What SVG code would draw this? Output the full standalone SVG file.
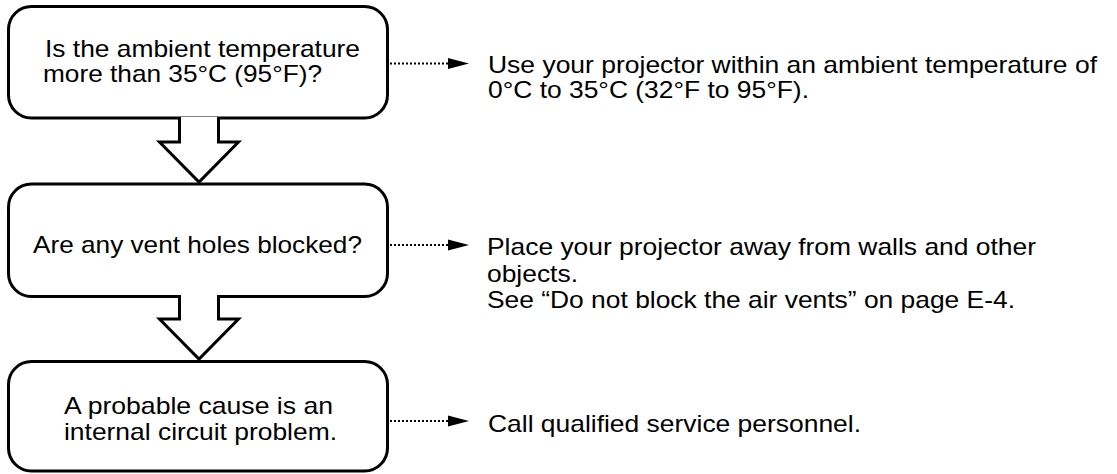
<svg xmlns="http://www.w3.org/2000/svg" width="1117" height="474" viewBox="0 0 1117 474">
<defs>
<style>
.box{fill:#fff;stroke:#000;stroke-width:3}
.blk{fill:#fff;stroke:#000;stroke-width:3;stroke-linejoin:miter}
.t{font-family:"Liberation Sans",Arial,Helvetica,sans-serif;font-size:24px;fill:#000}
.dot{stroke:#000;stroke-width:2;stroke-dasharray:2 2;fill:none}
.head{fill:#000}
</style>
</defs>
<rect width="1117" height="474" fill="#fff"/>
<g id="node1">
<rect class="box" x="8.5" y="6.5" width="379" height="111.5" rx="23"/>
<text class="t" x="45" y="57" textLength="315" lengthAdjust="spacingAndGlyphs">Is the ambient temperature</text>
<text class="t" x="43" y="82" textLength="279" lengthAdjust="spacingAndGlyphs">more than 35°C (95°F)?</text>
</g>
<g id="node2">
<rect class="box" x="8.5" y="184" width="379" height="112.5" rx="23"/>
<text class="t" x="33" y="253" textLength="329" lengthAdjust="spacingAndGlyphs">Are any vent holes blocked?</text>
</g>
<g id="node3">
<rect class="box" x="8.5" y="361.5" width="379" height="109.5" rx="23"/>
<text class="t" x="64" y="414" textLength="269" lengthAdjust="spacingAndGlyphs">A probable cause is an</text>
<text class="t" x="64" y="440" textLength="273" lengthAdjust="spacingAndGlyphs">internal circuit problem.</text>
</g>
<g id="note1">
<text class="t" x="488" y="73" textLength="609" lengthAdjust="spacingAndGlyphs">Use your projector within an ambient temperature of</text>
<text class="t" x="488" y="98" textLength="321" lengthAdjust="spacingAndGlyphs">0°C to 35°C (32°F to 95°F).</text>
</g>
<g id="note2">
<text class="t" x="487" y="255" textLength="549" lengthAdjust="spacingAndGlyphs">Place your projector away from walls and other</text>
<text class="t" x="487" y="281.5" textLength="91" lengthAdjust="spacingAndGlyphs">objects.</text>
<text class="t" x="487" y="308" textLength="528" lengthAdjust="spacingAndGlyphs">See “Do not block the air vents” on page E-4.</text>
</g>
<g id="note3">
<text class="t" x="488" y="432" textLength="373" lengthAdjust="spacingAndGlyphs">Call qualified service personnel.</text>
</g>
<g id="connectors">
<path class="blk" d="M179.5,117 V142 H159.5 L199,182 L238.5,142 H218.5 V117"/>
<path class="blk" d="M179.5,295 V319 H159.5 L199,359 L238.5,319 H218.5 V295"/>
<line class="dot" x1="390" y1="63.5" x2="449" y2="63.5"/>
<polygon class="head" points="448,58 469,63.5 448,69"/>
<line class="dot" x1="390" y1="245" x2="449" y2="245"/>
<polygon class="head" points="448,239.5 469,245 448,250.5"/>
<line class="dot" x1="390" y1="421" x2="449" y2="421"/>
<polygon class="head" points="448,415.5 469,421 448,426.5"/>
</g>
</svg>
